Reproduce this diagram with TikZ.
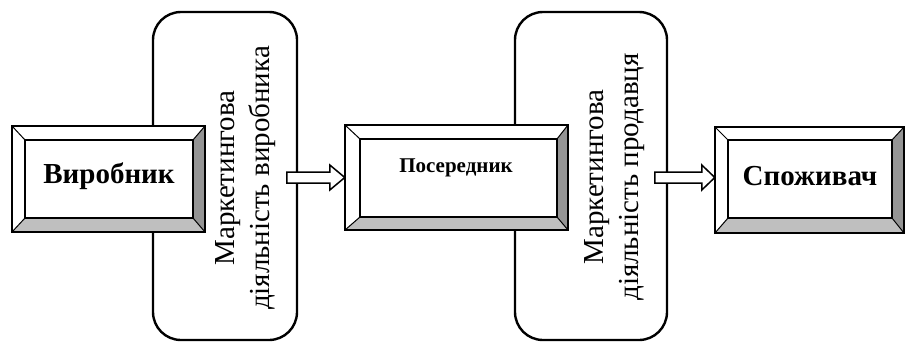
\documentclass[tikz,border=0pt]{standalone}
\usepackage{fontspec}
\setmainfont{Liberation Serif}
\usetikzlibrary{calc,fit}
\tikzset{
  x=1pt,y=-1pt,
  roundbox/.style={draw=black, line width=2.4pt, rounded corners=28pt, fill=white},
  boxline/.style={draw=black, line width=2pt},
  thinline/.style={draw=black, line width=1pt},
  bevR/.style={fill=black!42},
  bevB/.style={fill=black!25},
  boxtext/.style={font=\bfseries, inner sep=0pt},
  sidetext/.style={rotate=90, align=center, inner sep=0pt, font=\fontsize{29}{35}\selectfont},
  blockarrow/.style={draw=black, line width=1.5pt, fill=white, line join=miter},
}
\newcommand\bevelbox[5]{%
  \coordinate (#1-onw) at #2; \coordinate (#1-ose) at #3;
  \coordinate (#1-inw) at #4; \coordinate (#1-ise) at #5;
  \coordinate (#1-one) at (#1-ose |- #1-onw); \coordinate (#1-osw) at (#1-onw |- #1-ose);
  \coordinate (#1-ine) at (#1-ise |- #1-inw); \coordinate (#1-isw) at (#1-inw |- #1-ise);
  \fill[white] (#1-onw) rectangle (#1-ose);
  \fill[bevR] (#1-one) -- (#1-ose) -- (#1-ise) -- (#1-ine) -- cycle;
  \fill[bevB] (#1-osw) -- (#1-ose) -- (#1-ise) -- (#1-isw) -- cycle;
  \draw[thinline] (#1-onw) -- (#1-inw) (#1-one) -- (#1-ine) (#1-osw) -- (#1-isw) (#1-ose) -- (#1-ise);
  \draw[boxline] (#1-onw) rectangle (#1-ose);
  \draw[boxline] (#1-inw) rectangle (#1-ise);
  \node[inner sep=0pt, fit=(#1-onw)(#1-ose)] (#1) {};
}
\begin{document}
\begin{tikzpicture}
\useasboundingbox (0,0) rectangle (905,345);
\fill[white] (0,0) rectangle (905,345);
% rounded panels
\node[roundbox, inner sep=0pt, minimum width=144pt, minimum height=328pt] (panel1) at (225,176) {};
\node[roundbox, inner sep=0pt, minimum width=152pt, minimum height=328pt] (panel2) at (591,176) {};
% beveled boxes
\bevelbox{b1}{(12,126)}{(205,232)}{(25,140)}{(193,218)}
\bevelbox{b2}{(345,125)}{(568,230)}{(360,139)}{(557,217)}
\bevelbox{b3}{(715,127)}{(904,233)}{(728,140)}{(892,218)}
% box texts
\node[boxtext, font=\bfseries\fontsize{29}{31}\selectfont] (t1) at (109,176) {Виробник};
\node[boxtext, font=\bfseries\fontsize{21}{24}\selectfont] (t2) at (456,168) {Посередник};
\node[boxtext, font=\bfseries\fontsize{29}{31}\selectfont] (t3) at (810,176) {Споживач};
% side texts
\node[sidetext] (s1) at (246,178) {Маркетингова\\діяльність виробника};
\node[sidetext] (s2) at (615,177) {Маркетингова\\діяльність продавця};
% block arrows
\coordinate (a1tip) at (b2.west |- 0,177.5);
\coordinate (a2tip) at (b3.west |- 0,177.5);
\draw[blockarrow] ($(a1tip)+(-58,-5.5)$) -- ($(a1tip)+(-15,-5.5)$) -- ($(a1tip)+(-15,-12.5)$)
  -- (a1tip) -- ($(a1tip)+(-15,12.5)$) -- ($(a1tip)+(-15,5.5)$) -- ($(a1tip)+(-58,5.5)$) -- cycle;
\draw[blockarrow] ($(a2tip)+(-60,-5.5)$) -- ($(a2tip)+(-13,-5.5)$) -- ($(a2tip)+(-13,-12.5)$)
  -- (a2tip) -- ($(a2tip)+(-13,12.5)$) -- ($(a2tip)+(-13,5.5)$) -- ($(a2tip)+(-60,5.5)$) -- cycle;
\end{tikzpicture}
\end{document}
